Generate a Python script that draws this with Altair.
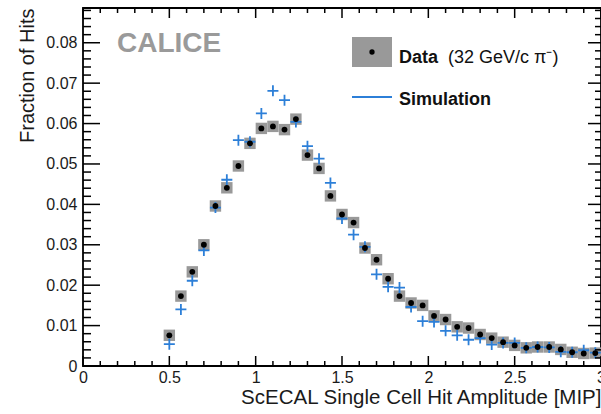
import altair as alt
import pandas as pd

# bin centres of the amplitude histogram [MIP]
amp = [0.500, 0.567, 0.633, 0.700, 0.767, 0.833, 0.900, 0.967, 1.033, 1.100,
       1.167, 1.233, 1.300, 1.367, 1.433, 1.500, 1.567, 1.633, 1.700, 1.767,
       1.833, 1.900, 1.967, 2.033, 2.100, 2.167, 2.233, 2.300, 2.367, 2.433,
       2.500, 2.567, 2.633, 2.700, 2.767, 2.833, 2.900, 2.967]
data_frac = [0.0076, 0.0173, 0.0233, 0.0300, 0.0396, 0.0441, 0.0495, 0.0551, 0.0588, 0.0593,
             0.0585, 0.0611, 0.0522, 0.0489, 0.0421, 0.0375, 0.0355, 0.0292, 0.0263, 0.0216,
             0.0173, 0.0156, 0.0150, 0.0124, 0.0115, 0.0097, 0.0094, 0.0078, 0.0069, 0.0059,
             0.0051, 0.0045, 0.0047, 0.0047, 0.0041, 0.0034, 0.0031, 0.0032]
sim_frac = [0.0054, 0.0140, 0.0211, 0.0286, 0.0392, 0.0461, 0.0559, 0.0555, 0.0625, 0.0681,
            0.0658, 0.0604, 0.0544, 0.0513, 0.0453, 0.0365, 0.0325, 0.0295, 0.0227, 0.0196,
            0.0194, 0.0146, 0.0111, 0.0109, 0.0087, 0.0076, 0.0065, 0.0069, 0.0053, 0.0057,
            0.0057, 0.0045, 0.0047, 0.0046, 0.0035, 0.0034, 0.0039, 0.0033]

x_major = [0, 0.5, 1, 1.5, 2, 2.5, 3]
x_minor = [0.1, 0.2, 0.3, 0.4, 0.6, 0.7, 0.8, 0.9, 1.1, 1.2, 1.3, 1.4, 1.6, 1.7, 1.8, 1.9,
           2.1, 2.2, 2.3, 2.4, 2.6, 2.7, 2.8, 2.9]
y_major = [0, 0.01, 0.02, 0.03, 0.04, 0.05, 0.06, 0.07, 0.08]
y_minor = [0.002, 0.004, 0.006, 0.008, 0.012, 0.014, 0.016, 0.018, 0.022, 0.024, 0.026, 0.028,
           0.032, 0.034, 0.036, 0.038, 0.042, 0.044, 0.046, 0.048, 0.052, 0.054, 0.056, 0.058,
           0.062, 0.064, 0.066, 0.068, 0.072, 0.074, 0.076, 0.078, 0.082, 0.084, 0.086, 0.088]

df = pd.DataFrame({"amp": amp, "data": data_frac, "sim": sim_frac})

FONT = "Liberation Sans"
BLUE = "#2c7fd8"
GREY = "#999999"
XDOM = [0, 3]
YDOM = [0, 0.0886]
W, H = 518, 358

XS = alt.Scale(domain=XDOM, nice=False, zero=False)
YS = alt.Scale(domain=YDOM, nice=False, zero=False)

x_axis = alt.Axis(values=x_major, format="~g", ticks=False, domain=False, grid=False,
                  labelFont=FONT, labelFontSize=16, labelColor="#1a1a1a", labelPadding=3,
                  title="ScECAL Single Cell Hit Amplitude [MIP]", titleFont=FONT,
                  titleFontSize=20.5, titleFontWeight="normal", titleColor="#1a1a1a",
                  titleAnchor="end", titlePadding=2, labelFlush=False)
y_axis = alt.Axis(values=y_major, ticks=False, domain=False, grid=False,
                  labelExpr="datum.value == 0 ? '0' : format(datum.value, '.2f')",
                  labelFont=FONT, labelFontSize=16, labelColor="#1a1a1a", labelPadding=6,
                  title="Fraction of Hits", titleFont=FONT, titleFontSize=20,
                  titleFontWeight="normal", titleColor="#1a1a1a", titleAnchor="end",
                  titlePadding=8, labelFlush=False)

base = alt.Chart(df)

boxes = base.mark_square(color=GREY, size=130, opacity=1).encode(
    x=alt.X("amp:Q", scale=XS, axis=x_axis),
    y=alt.Y("data:Q", scale=YS, axis=y_axis))

crosses = base.mark_point(shape="M-1,0H1M0,-1V1", filled=False, color=BLUE,
                          strokeWidth=1.8, size=121, opacity=1).encode(
    x=alt.X("amp:Q", scale=XS),
    y=alt.Y("sim:Q", scale=YS))

dots = base.mark_circle(color="black", size=34, opacity=1).encode(
    x=alt.X("amp:Q", scale=XS),
    y=alt.Y("data:Q", scale=YS))


# ROOT-style inward ticks on all four sides, placed through the shared scales
def xticks(values, y0, y1):
    return alt.Chart(pd.DataFrame({"v": values})).mark_rule(
        color="black", strokeWidth=1.5).encode(
        x=alt.X("v:Q", scale=XS), y=alt.value(y0), y2=alt.value(y1))


def yticks(values, x0, x1):
    return alt.Chart(pd.DataFrame({"v": values})).mark_rule(
        color="black", strokeWidth=1.5).encode(
        y=alt.Y("v:Q", scale=YS), x=alt.value(x0), x2=alt.value(x1))


ticks = [
    xticks(x_major, H, H - 10), xticks(x_minor, H, H - 5),
    xticks(x_major, 0, 10), xticks(x_minor, 0, 5),
    yticks(y_major, 0, 17), yticks(y_minor, 0, 8),
    yticks(y_major, W, W - 13), yticks(y_minor, W, W - 6),
]

one = pd.DataFrame({"k": [0]})
leg = alt.Chart(one)
leg_box = leg.mark_rect(color=GREY).encode(
    x=alt.value(269), x2=alt.value(309), y=alt.value(29), y2=alt.value(59))
leg_dot = leg.mark_circle(color="black", size=28, opacity=1).encode(
    x=alt.value(289), y=alt.value(44))
leg_line = leg.mark_rule(color=BLUE, strokeWidth=2).encode(
    x=alt.value(269), x2=alt.value(309), y=alt.value(89))
t_data = leg.mark_text(text="Data", font=FONT, fontSize=18, fontWeight="bold", align="left",
                       baseline="alphabetic", color="#111111").encode(
    x=alt.value(316), y=alt.value(55))
t_data2 = leg.mark_text(text="(32 GeV/c \u03c0\u207b)", font=FONT, fontSize=18, align="left",
                        baseline="alphabetic", color="#111111").encode(
    x=alt.value(365), y=alt.value(55))
t_sim = leg.mark_text(text="Simulation", font=FONT, fontSize=18, fontWeight="bold", align="left",
                      baseline="alphabetic", color="#111111").encode(
    x=alt.value(316), y=alt.value(97))
t_calice = leg.mark_text(text="CALICE", font=FONT, fontSize=28, fontWeight="bold", align="left",
                         baseline="alphabetic", color="#9a9a9a").encode(
    x=alt.value(34), y=alt.value(44))

chart = alt.layer(
    boxes, crosses, dots, *ticks,
    leg_box, leg_dot, leg_line, t_data, t_data2, t_sim, t_calice
).properties(
    width=W, height=H,
    autosize=alt.AutoSizeParams(type="none"),
    padding={"left": 83, "top": 8, "right": 0, "bottom": 48},
    background="white",
).configure_view(stroke="black", strokeWidth=1.8)

chart.save("out.html", embed_options={"renderer": "svg", "actions": False})
